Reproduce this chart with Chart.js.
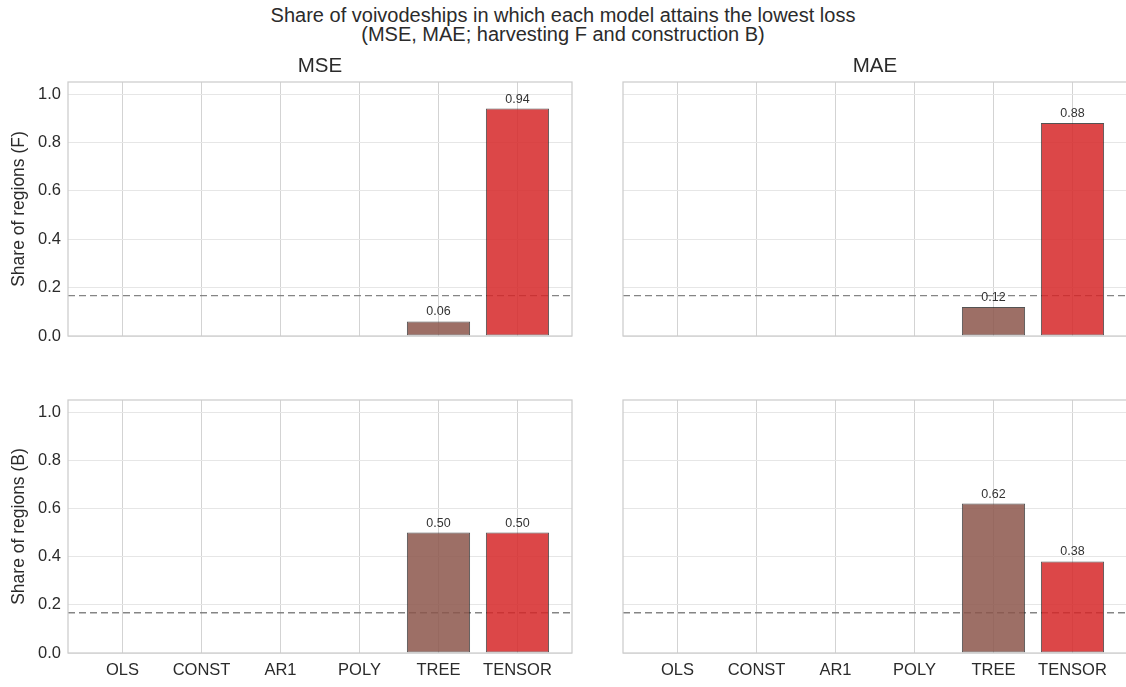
<!DOCTYPE html>
<html>
<head>
<meta charset="utf-8">
<script src="https://cdn.jsdelivr.net/npm/chart.js@4.4.1/dist/chart.umd.min.js"></script>
<style>
  html, body { margin: 0; padding: 0; background: #fff; overflow: hidden; width: 1126px; height: 687px; }
  #title {
    position: absolute; left: 0; top: 6px; width: 1126px; text-align: center;
    font-family: "Liberation Sans", Arial, sans-serif; font-size: 20px; line-height: 19px; color: #2b2b2b;
  }
  .panel { position: absolute; }
</style>
</head>
<body>
<div id="title">Share of voivodeships in which each model attains the lowest loss<br>(MSE, MAE; harvesting F and construction B)</div>
<div class="panel" style="left:0;top:40px;width:580px;height:320px"><canvas id="mseF"></canvas></div>
<div class="panel" style="left:580px;top:40px;width:560px;height:320px"><canvas id="maeF"></canvas></div>
<div class="panel" style="left:0;top:360px;width:580px;height:327px"><canvas id="mseB"></canvas></div>
<div class="panel" style="left:580px;top:360px;width:560px;height:327px"><canvas id="maeB"></canvas></div>
<script>
// Models compared, in axis order
const models = ['OLS', 'CONST', 'AR1', 'POLY', 'TREE', 'TENSOR'];

// Share of regions where each model has the lowest loss
const mseHarvesting    = [0, 0, 0, 0, 0.06, 0.94];
const maeHarvesting    = [0, 0, 0, 0, 0.12, 0.88];
const mseConstruction  = [0, 0, 0, 0, 0.50, 0.50];
const maeConstruction  = [0, 0, 0, 0, 0.62, 0.38];

// Y tick values and the uniform-share reference level (1 of 6 models)
const yTicks = [0, 0.2, 0.4, 0.6, 0.8, 1.0];
const chanceShare = 0.167;

const modelColors = ['#1f77b4', '#ff7f0e', '#2ca02c', '#9467bd', '#8c564b', '#d62728'];

const FONT = '"Liberation Sans", Arial, sans-serif';
const TEXT = '#2b2b2b';
const X_MIN = -0.69, X_MAX = 5.69;

function withAlpha(hex, a) {
  const n = parseInt(hex.slice(1), 16);
  return `rgba(${(n >> 16) & 255},${(n >> 8) & 255},${n & 255},${a})`;
}

// Light frame around each plot area
const framePlugin = {
  id: 'frame',
  afterDatasetsDraw(chart) {
    const { ctx, chartArea: a } = chart;
    ctx.save();
    ctx.strokeStyle = '#cccccc';
    ctx.lineWidth = 1.25;
    ctx.strokeRect(a.left, a.top, a.right - a.left, a.bottom - a.top);
    ctx.restore();
  }
};

// Value annotations above non-empty bars
const valueLabels = {
  id: 'valueLabels',
  afterDatasetsDraw(chart) {
    const { ctx } = chart;
    const meta = chart.getDatasetMeta(0);
    const data = chart.data.datasets[0].data;
    ctx.save();
    ctx.font = `12.5px ${FONT}`;
    ctx.fillStyle = '#333333';
    ctx.textAlign = 'center';
    ctx.textBaseline = 'alphabetic';
    meta.data.forEach((el, i) => {
      const v = data[i].y;
      if (v > 0) ctx.fillText(v.toFixed(2), el.x, el.y - 6);
    });
    ctx.restore();
  }
};

// Column heading above each top-row panel
const panelTitle = {
  id: 'panelTitle',
  afterDraw(chart, args, opts) {
    if (!opts.text) return;
    const { ctx, chartArea: a } = chart;
    ctx.save();
    ctx.font = `20.5px ${FONT}`;
    ctx.fillStyle = TEXT;
    ctx.textAlign = 'center';
    ctx.textBaseline = 'middle';
    ctx.fillText(opts.text, (a.left + a.right) / 2, a.top - 16);
    ctx.restore();
  }
};

function makePanel(id, values, o) {
  const ctx = document.getElementById(id);
  return new Chart(ctx, {
    type: 'bar',
    data: {
      datasets: [
        {
          type: 'bar',
          data: values.map((v, i) => ({ x: i, y: v })),
          backgroundColor: modelColors.map(c => withAlpha(c, 0.85)),
          borderColor: 'rgba(40,40,40,0.8)',
          borderWidth: c => (c.raw && c.raw.y > 0 ? 1 : 0),
          borderSkipped: false,
          barPercentage: 0.8,
          categoryPercentage: 1,
          order: 1
        },
        {
          type: 'line',
          data: [{ x: X_MIN, y: chanceShare }, { x: X_MAX, y: chanceShare }],
          borderColor: 'rgba(120,120,120,0.9)',
          borderWidth: 1.3,
          borderDash: [7, 4],
          pointRadius: 0,
          fill: false,
          order: 2
        }
      ]
    },
    options: {
      responsive: true,
      maintainAspectRatio: false,
      animation: false,
      layout: { padding: { top: o.padTop, right: o.padRight, left: 0, bottom: 0 } },
      plugins: {
        legend: { display: false },
        tooltip: { enabled: false },
        panelTitle: { text: o.title }
      },
      scales: {
        x: {
          type: 'linear',
          min: X_MIN,
          max: X_MAX,
          offset: false,
          afterBuildTicks: s => { s.ticks = models.map((m, i) => ({ value: i })); },
          afterFit: s => { s.height = o.xHeight; },
          ticks: {
            display: o.showX,
            callback: v => models[v],
            font: { family: FONT, size: 16.5 },
            color: TEXT,
            padding: 8,
            autoSkip: false,
            maxRotation: 0
          },
          grid: { color: '#d3d3d3', lineWidth: 1, drawTicks: false, offset: false },
          border: { display: false }
        },
        y: {
          min: 0,
          max: 1.05,
          afterBuildTicks: s => { s.ticks = yTicks.map(v => ({ value: v })); },
          afterFit: s => { s.width = o.yWidth; },
          ticks: {
            display: o.showY,
            callback: v => v.toFixed(1),
            font: { family: FONT, size: 16.5 },
            color: TEXT,
            padding: 7
          },
          grid: { color: '#e6e6e6', lineWidth: 1, drawTicks: false },
          border: { display: false },
          title: {
            display: o.showY,
            text: o.yTitle,
            font: { family: FONT, size: 17.5 },
            color: TEXT,
            padding: { top: 9, bottom: 0 }
          }
        }
      }
    },
    plugins: [framePlugin, valueLabels, panelTitle]
  });
}

makePanel('mseF', mseHarvesting, {
  title: 'MSE', yTitle: 'Share of regions (F)', showX: false, showY: true,
  yWidth: 68, xHeight: 24, padTop: 42, padRight: 8
});
makePanel('maeF', maeHarvesting, {
  title: 'MAE', yTitle: '', showX: false, showY: false,
  yWidth: 43, xHeight: 24, padTop: 42, padRight: 13
});
makePanel('mseB', mseConstruction, {
  title: '', yTitle: 'Share of regions (B)', showX: true, showY: true,
  yWidth: 68, xHeight: 34, padTop: 40, padRight: 8
});
makePanel('maeB', maeConstruction, {
  title: '', yTitle: '', showX: true, showY: false,
  yWidth: 43, xHeight: 34, padTop: 40, padRight: 13
});
</script>
</body>
</html>
